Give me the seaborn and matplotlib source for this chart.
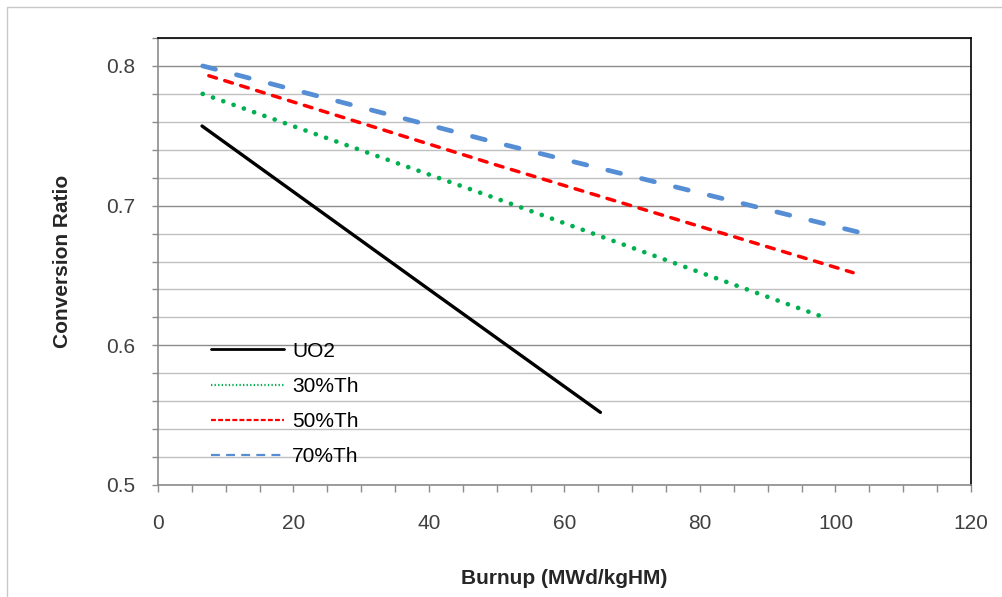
import matplotlib
matplotlib.use("Agg")
import matplotlib.pyplot as plt
from matplotlib.lines import Line2D
from matplotlib.patches import Rectangle
from matplotlib.ticker import MultipleLocator
import numpy as np
import pandas as pd
import seaborn as sns

# Conversion ratio vs. burnup for each fuel composition
uo2_burnup = [6.5, 40.0, 65.3]
uo2_cr = [0.757, 0.640, 0.552]
th30_burnup = [6.6, 50.0, 98.9]
th30_cr = [0.780, 0.705, 0.619]
th50_burnup = [7.5, 50.0, 102.6]
th50_cr = [0.793, 0.729, 0.652]
th70_burnup = [6.6, 50.0, 103.4]
th70_cr = [0.800, 0.745, 0.681]
series_names = ["UO2", "30%Th", "50%Th", "70%Th"]

x_ticks = [0, 20, 40, 60, 80, 100, 120]
y_ticks = [0.5, 0.6, 0.7, 0.8]

sns.set_theme(style="white")
plt.rcParams["font.family"] = ["Liberation Sans", "DejaVu Sans"]

FS = 15

fig = plt.figure(figsize=(10.03, 5.97), dpi=100)
ax = fig.add_axes([158 / 1003, 1 - 485 / 597, (971 - 158) / 1003, (485 - 38) / 597])

# light frame around the chart area
fig.patches.append(Rectangle((7 / 1003, -0.05), 1.2, 1 - 7 / 597 + 0.05,
                             transform=fig.transFigure, fill=False,
                             edgecolor="#C8C8C8", lw=1.0, zorder=0))

frames = []
for name, bx, cy in zip(series_names,
                        [uo2_burnup, th30_burnup, th50_burnup, th70_burnup],
                        [uo2_cr, th30_cr, th50_cr, th70_cr]):
    frames.append(pd.DataFrame({"burnup": bx, "cr": cy, "fuel": name}))
df = pd.concat(frames, ignore_index=True)

styles = {
    "UO2": dict(color="black", lw=2.4, ls="-"),
    "30%Th": dict(color="#00B050", lw=3.4, ls=(0, (0.01, 2.3))),
    "50%Th": dict(color="#FF0000", lw=2.5, ls=(0, (2.3, 2.5))),
    "70%Th": dict(color="#558ED5", lw=3.4, ls=(0, (2.8, 4.58))),
}
for name in series_names:
    st = styles[name]
    sns.lineplot(data=df[df["fuel"] == name], x="burnup", y="cr", ax=ax,
                 color=st["color"], lw=st["lw"], linestyle=st["ls"],
                 estimator=None, sort=False, legend=False, zorder=5)
for line in ax.get_lines():
    line.set_dash_capstyle("round")
    line.set_solid_capstyle("round")

ax.set_xlim(0, 120)
ax.set_ylim(0.5, 0.82)
ax.set_xticks(x_ticks)
ax.set_yticks(y_ticks)
ax.set_yticklabels([f"{v:.1f}" for v in y_ticks])
ax.xaxis.set_minor_locator(MultipleLocator(5))
ax.yaxis.set_minor_locator(MultipleLocator(0.02))

# gridlines
ax.grid(which="minor", axis="y", color="#C0C0C0", lw=1.0)
ax.grid(which="major", axis="y", color="#8C8C8C", lw=1.0)
ax.set_axisbelow(True)

for side in ["top", "right"]:
    ax.spines[side].set_color("black")
    ax.spines[side].set_linewidth(1.2)
for side in ["left", "bottom"]:
    ax.spines[side].set_color("#8C8C8C")
    ax.spines[side].set_linewidth(1.2)

ax.tick_params(axis="y", which="both", direction="out", length=4, width=1,
               color="#8C8C8C", left=True, pad=12.5, labelsize=FS, labelcolor="#404040")
ax.tick_params(axis="x", which="both", direction="out", length=5, width=1,
               color="#8C8C8C", bottom=True, pad=16, labelsize=FS, labelcolor="#404040")

ax.set_xlabel("Burnup (MWd/kgHM)", fontsize=FS, fontweight="bold")
ax.set_ylabel("Conversion Ratio", fontsize=FS, fontweight="bold")
ax.xaxis.set_label_coords(0.5, -0.189)
ax.yaxis.set_label_coords(-0.106, 0.5)

handles = [
    Line2D([], [], color="black", lw=2.0, ls="-"),
    Line2D([], [], color="#00B050", lw=1.6, ls=(0, (0.6, 1.0))),
    Line2D([], [], color="#FF0000", lw=1.6, ls=(0, (2.2, 1.0))),
    Line2D([], [], color="#558ED5", lw=1.6, ls=(0, (4.0, 2.8))),
]
leg = ax.legend(handles, series_names, loc="lower left",
                bbox_to_anchor=(0.055, 0.023), frameon=False, fontsize=FS,
                handlelength=3.5, handletextpad=0.4, labelspacing=0.78,
                borderaxespad=0)
for t in leg.get_texts():
    t.set_color("black")

fig.savefig("out.png", dpi=100, facecolor="white")
